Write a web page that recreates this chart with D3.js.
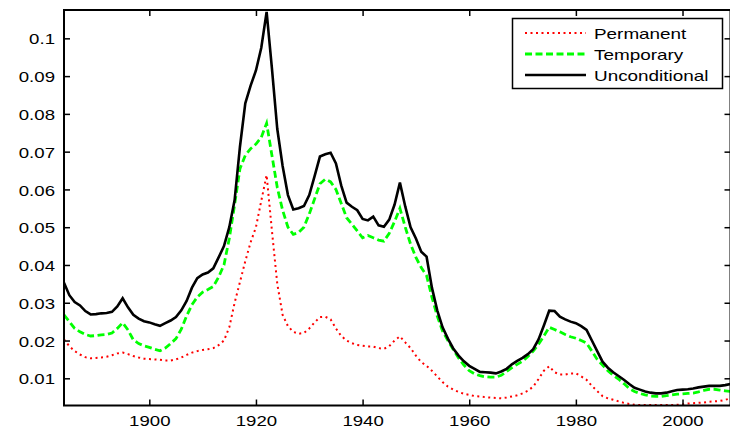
<!DOCTYPE html>
<html>
<head>
<meta charset="utf-8">
<script src="https://cdn.jsdelivr.net/npm/d3@7"></script>
<style>
  html, body { margin: 0; padding: 0; background: #fff; }
  svg { display: block; font-family: Arial, "Liberation Sans", Helvetica, sans-serif; }
</style>
</head>
<body>
<svg id="chart" width="730" height="427"></svg>
<script>
// Annual observations, 1884-2009
const years = d3.range(1884, 2010);

const permanent = [
  0.0203, 0.0185, 0.0172, 0.0163, 0.0156, 0.0153, 0.0154, 0.0155, 0.0157, 0.0161,
  0.0166, 0.0168, 0.0164, 0.0159, 0.0155, 0.0152, 0.0151, 0.0150, 0.0149, 0.0147,
  0.0147, 0.0150, 0.0155, 0.0162, 0.0168, 0.0172, 0.0175, 0.0177, 0.0180, 0.0188,
  0.0200, 0.0235, 0.0300, 0.0355, 0.0410, 0.0460, 0.0500, 0.0570, 0.0638, 0.0490,
  0.0350, 0.0268, 0.0238, 0.0223, 0.0218, 0.0220, 0.0232, 0.0248, 0.0262, 0.0263,
  0.0256, 0.0232, 0.0212, 0.0200, 0.0193, 0.0188, 0.0186, 0.0184, 0.0184, 0.0180,
  0.0178, 0.0185, 0.0200, 0.0211, 0.0195, 0.0180, 0.0160, 0.0143, 0.0133, 0.0120,
  0.0105, 0.0090, 0.0078, 0.0070, 0.0064, 0.0059, 0.0056, 0.0053, 0.0052, 0.0050,
  0.0049, 0.0048, 0.0047, 0.0049, 0.0052, 0.0055, 0.0060, 0.0067, 0.0078, 0.0098,
  0.0120, 0.0132, 0.0116, 0.0110, 0.0110, 0.0113, 0.0113, 0.0105, 0.0096, 0.0080,
  0.0066, 0.0053, 0.0047, 0.0043, 0.0039, 0.0035, 0.0032, 0.0030, 0.0029, 0.0029,
  0.0029, 0.0029, 0.0029, 0.0029, 0.0029, 0.0030, 0.0031, 0.0033, 0.0034, 0.0035,
  0.0036, 0.0038, 0.0039, 0.0040, 0.0043, 0.0047
];

const temporary = [
  0.0268, 0.0250, 0.0232, 0.0223, 0.0216, 0.0212, 0.0213, 0.0215, 0.0216, 0.0220,
  0.0232, 0.0247, 0.0228, 0.0202, 0.0192, 0.0186, 0.0182, 0.0177, 0.0173, 0.0180,
  0.0192, 0.0205, 0.0230, 0.0265, 0.0295, 0.0315, 0.0328, 0.0335, 0.0343, 0.0368,
  0.0400, 0.0470, 0.0560, 0.0655, 0.0690, 0.0708, 0.0720, 0.0738, 0.0775, 0.0690,
  0.0605, 0.0545, 0.0500, 0.0481, 0.0486, 0.0500, 0.0535, 0.0575, 0.0615, 0.0627,
  0.0620, 0.0600, 0.0563, 0.0525, 0.0508, 0.0490, 0.0472, 0.0478, 0.0472, 0.0466,
  0.0463, 0.0484, 0.0515, 0.0550, 0.0500, 0.0455, 0.0420, 0.0393, 0.0372, 0.0315,
  0.0265, 0.0225, 0.0200, 0.0176, 0.0154, 0.0135, 0.0120, 0.0112, 0.0107, 0.0104,
  0.0103, 0.0103, 0.0108, 0.0118, 0.0128, 0.0137, 0.0145, 0.0158, 0.0172, 0.0190,
  0.0212, 0.0235, 0.0229, 0.0223, 0.0216, 0.0210, 0.0206, 0.0200, 0.0193, 0.0172,
  0.0150, 0.0135, 0.0120, 0.0108, 0.0098, 0.0086, 0.0073, 0.0065, 0.0060, 0.0056,
  0.0053, 0.0052, 0.0052, 0.0054, 0.0056, 0.0058, 0.0059, 0.0060, 0.0061, 0.0064,
  0.0068, 0.0071, 0.0071, 0.0069, 0.0067, 0.0065
];

const unconditional = [
  0.0353, 0.0320, 0.0302, 0.0293, 0.0278, 0.0269, 0.0270, 0.0272, 0.0273, 0.0276,
  0.0290, 0.0312, 0.0288, 0.0268, 0.0258, 0.0251, 0.0248, 0.0243, 0.0239, 0.0246,
  0.0253, 0.0262, 0.0280, 0.0305, 0.0340, 0.0365, 0.0375, 0.0380, 0.0391, 0.0420,
  0.0450, 0.0500, 0.0572, 0.0713, 0.0828, 0.0875, 0.0915, 0.0975, 0.1070, 0.0920,
  0.0760, 0.0662, 0.0585, 0.0547, 0.0550, 0.0556, 0.0585, 0.0635, 0.0687, 0.0693,
  0.0697, 0.0669, 0.0610, 0.0565, 0.0554, 0.0545, 0.0522, 0.0518, 0.0528, 0.0505,
  0.0501, 0.0520, 0.0560, 0.0618, 0.0555, 0.0500, 0.0470, 0.0435, 0.0422, 0.0340,
  0.0280, 0.0235, 0.0205, 0.0179, 0.0160, 0.0145, 0.0133, 0.0125, 0.0117, 0.0116,
  0.0115, 0.0113, 0.0118, 0.0125, 0.0137, 0.0146, 0.0154, 0.0164, 0.0177, 0.0203,
  0.0240, 0.0279, 0.0278, 0.0263, 0.0256, 0.0250, 0.0246, 0.0238, 0.0228, 0.0200,
  0.0172, 0.0144, 0.0128, 0.0116, 0.0106, 0.0096, 0.0085, 0.0075, 0.0070, 0.0065,
  0.0062, 0.0060, 0.0060, 0.0062, 0.0066, 0.0069, 0.0070, 0.0071, 0.0073, 0.0076,
  0.0078, 0.0080, 0.0080, 0.0080, 0.0082, 0.0085
];

const seriesNames = ["Permanent", "Temporary", "Unconditional"];
const xTicks = [1900, 1920, 1940, 1960, 1980, 2000];
const yTicks = [0.01, 0.02, 0.03, 0.04, 0.05, 0.06, 0.07, 0.08, 0.09, 0.1];

// Drawing styles per series
const styles = {
  Permanent:     { color: "#ff0000", width: 2,   dash: "2,3.5" },
  Temporary:     { color: "#00ff00", width: 2.8, dash: "7,3.5" },
  Unconditional: { color: "#000000", width: 2.6, dash: null }
};
const seriesData = { Permanent: permanent, Temporary: temporary, Unconditional: unconditional };

const svg = d3.select("#chart");
const plotLeft = 64, plotRight = 730.5, plotTop = 10, plotBottom = 405.5;
const SX = 1.33; // horizontal text stretch

const x = d3.scaleLinear().domain([1884, 2009]).range([plotLeft, plotRight]);
const y = d3.scaleLinear().domain([0.0028, 0.1075]).range([plotBottom, plotTop]);

svg.append("defs").append("clipPath").attr("id", "plot-clip")
  .append("rect").attr("x", plotLeft).attr("y", plotTop)
  .attr("width", plotRight - plotLeft).attr("height", plotBottom - plotTop);

// Lines
const line = d3.line().x((d, i) => x(years[i])).y(d => y(d));
const linesG = svg.append("g").attr("clip-path", "url(#plot-clip)");
seriesNames.forEach(name => {
  const s = styles[name];
  linesG.append("path")
    .datum(seriesData[name])
    .attr("fill", "none")
    .attr("stroke", s.color)
    .attr("stroke-width", s.width)
    .attr("stroke-dasharray", s.dash)
    .attr("stroke-linejoin", "miter")
    .attr("d", line);
});

// Axes with inward ticks on all four sides
function styleAxis(g) {
  g.select(".domain").remove();
  g.selectAll(".tick line").attr("stroke", "#000").attr("stroke-width", 1.5);
  g.selectAll("text").attr("fill", "#000").style("font-size", "14px")
    .style("font-family", "Arial, 'Liberation Sans', sans-serif");
}

const fmtY = d => String(+d.toFixed(2));

const gLeft = svg.append("g").attr("transform", `translate(${plotLeft},0)`)
  .call(d3.axisLeft(y).tickValues(yTicks).tickFormat(fmtY).tickSizeInner(-6).tickSizeOuter(0).tickPadding(9));
styleAxis(gLeft);
gLeft.selectAll("text").attr("x", 0).attr("dy", null)
  .attr("dominant-baseline", "central")
  .attr("transform", `translate(-9,0.5) scale(${SX},1)`);

const gRight = svg.append("g").attr("transform", `translate(${plotRight},0)`)
  .call(d3.axisRight(y).tickValues(yTicks).tickFormat("").tickSizeInner(-6).tickSizeOuter(0));
styleAxis(gRight);

const gBottom = svg.append("g").attr("transform", `translate(0,${plotBottom})`)
  .call(d3.axisBottom(x).tickValues(xTicks).tickFormat(d3.format("d")).tickSizeInner(-6).tickSizeOuter(0));
styleAxis(gBottom);
gBottom.selectAll("text").attr("y", 0).attr("dy", null)
  .attr("transform", `translate(0,20) scale(${SX},1)`);

const gTop = svg.append("g").attr("transform", `translate(0,${plotTop})`)
  .call(d3.axisTop(x).tickValues(xTicks).tickFormat("").tickSizeInner(-6).tickSizeOuter(0));
styleAxis(gTop);

// Frame
svg.append("rect")
  .attr("x", plotLeft).attr("y", plotTop)
  .attr("width", plotRight - plotLeft).attr("height", plotBottom - plotTop)
  .attr("fill", "none").attr("stroke", "#000").attr("stroke-width", 2);

// Legend
const legend = svg.append("g");
legend.append("rect")
  .attr("x", 512.5).attr("y", 18.5).attr("width", 210).attr("height", 70)
  .attr("fill", "#fff").attr("stroke", "#000").attr("stroke-width", 1.5);
seriesNames.forEach((name, i) => {
  const s = styles[name];
  const cy = 33 + i * 21;
  legend.append("line")
    .attr("x1", 525).attr("x2", 586).attr("y1", cy).attr("y2", cy)
    .attr("stroke", s.color).attr("stroke-width", s.width)
    .attr("stroke-dasharray", s.dash);
  legend.append("text")
    .attr("transform", `translate(594,${cy + 6}) scale(${SX * 0.98},1)`)
    .style("font-size", "14.5px")
    .attr("fill", "#000")
    .text(name);
});
</script>
</body>
</html>
